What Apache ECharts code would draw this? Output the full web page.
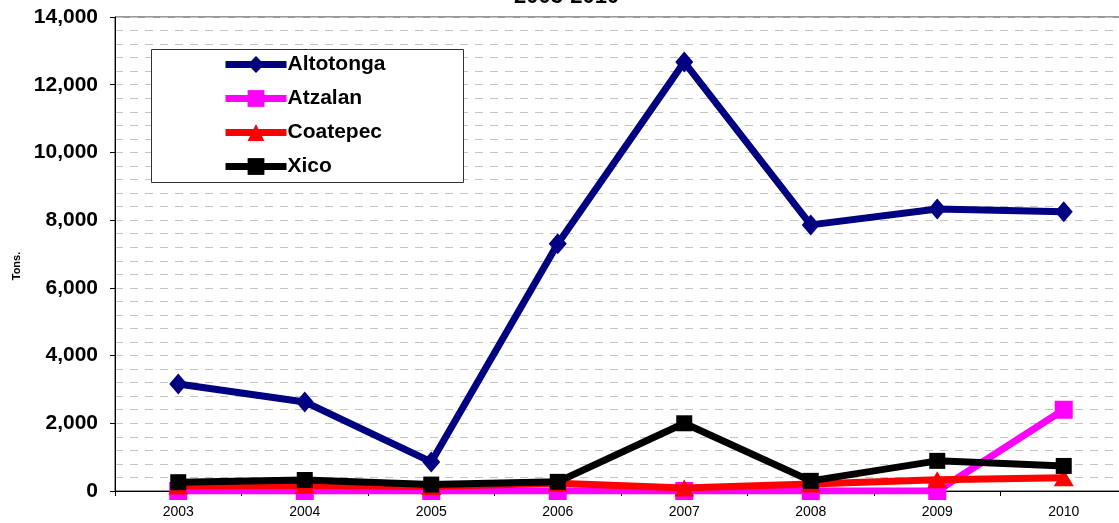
<!DOCTYPE html>
<html><head><meta charset="utf-8">
<script src="https://cdn.jsdelivr.net/npm/echarts@6/dist/echarts.min.js"></script>
<style>html,body{margin:0;padding:0;background:#fff;overflow:hidden}#c{width:1127px;height:523px}</style>
</head><body><div id="c"></div>
<script>
const years = ['2003','2004','2005','2006','2007','2008','2009','2010'];
const altotonga = [3160, 2630, 860, 7300, 12670, 7860, 8330, 8250];
const atzalan = [0, 0, 0, 0, 0, 0, 0, 2400];
const coatepec = [150, 170, 130, 230, 90, 210, 330, 390];
const xico = [260, 325, 190, 270, 2000, 300, 890, 740];
const seriesNames = ['Altotonga','Atzalan','Coatepec','Xico'];

const font = 'Liberation Sans, Arial, sans-serif';
const chart = echarts.init(document.getElementById('c'));
function mk(name, data, color, symbol, size, z){
  return {name, type:'line', data, z, symbol, symbolSize:size, showSymbol:true,
    lineStyle:{color, width:7}, itemStyle:{color, borderWidth:0},
    emphasis:{disabled:true}, animation:false};
}
chart.setOption({
  animation:false,
  textStyle:{fontFamily:font},
  title:{text:'2003-2010', left:509, top:-19, textStyle:{fontFamily:font, fontSize:22, fontWeight:'bold', color:'#000'}},
  grid:{left:115, top:17, right:0, height:474, show:true, borderColor:'#333', borderWidth:1, backgroundColor:'transparent'},
  graphic:[{type:'rect', left:151, top:49, shape:{width:312, height:133}, style:{fill:'#fff', stroke:'#333', lineWidth:1}, z:10}],
  legend:{left:222, top:54, padding:0, orient:'vertical', itemGap:13, itemWidth:61, itemHeight:21, z:20,
    data:seriesNames,
    lineStyle:{width:'inherit'},
    textStyle:{fontFamily:font, fontSize:21, fontWeight:'bold', color:'#000', padding:[0,0,0,-4]}},
  xAxis:{type:'category', data:years, boundaryGap:true,
    axisLine:{lineStyle:{color:'#000', width:1}},
    axisTick:{show:true, length:5, lineStyle:{color:'#000'}},
    axisLabel:{fontFamily:font, fontSize:14, color:'#000', margin:14}},
  yAxis:{type:'value', min:0, max:14000, interval:2000,
    name:'Tons.', nameLocation:'middle', nameGap:93, nameRotate:90,
    nameTextStyle:{fontFamily:font, fontSize:11, fontWeight:'bold', color:'#000', padding:[0,24,0,0]},
    axisLine:{show:true, lineStyle:{color:'#000', width:1}},
    axisTick:{show:true, length:5, lineStyle:{color:'#000'}},
    axisLabel:{fontFamily:font, fontSize:21, fontWeight:'bold', color:'#000', margin:17,
      formatter:v=>v.toLocaleString('en-US')},
    splitLine:{show:true, lineStyle:{color:'#c4c4c4', type:[8,7], width:1}},
    minorTick:{show:false, splitNumber:5},
    minorSplitLine:{show:true, lineStyle:{color:'#c4c4c4', type:[8,7], width:1}}},
  series:[
    mk('Altotonga', altotonga, '#000080', 'diamond', [18,21], 4),
    mk('Atzalan', atzalan, '#ff00ff', 'rect', 18, 2),
    mk('Coatepec', coatepec, '#ff0000', 'triangle', [20,17], 3),
    mk('Xico', xico, '#000000', 'rect', 16, 5)
  ]
});
</script></body></html>
